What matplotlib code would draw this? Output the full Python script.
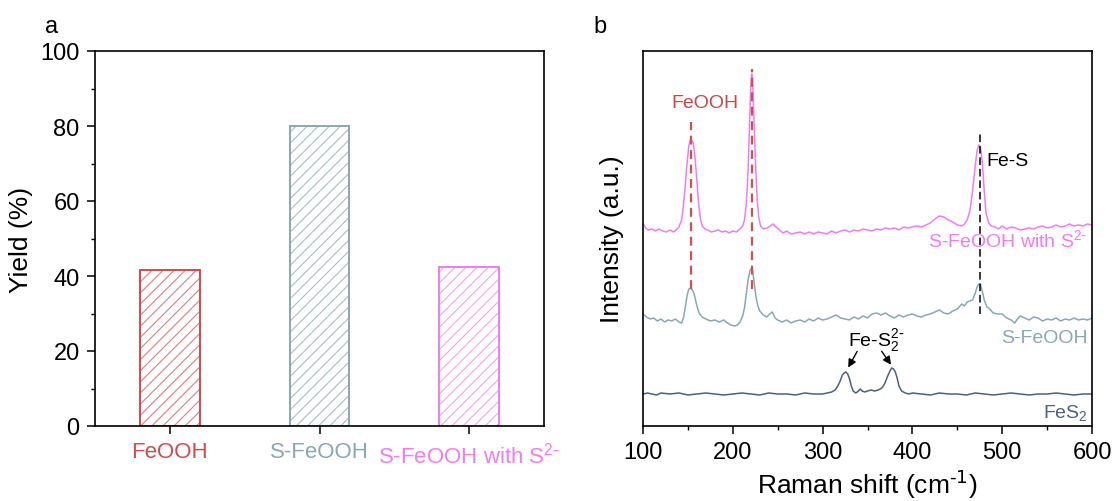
import matplotlib
matplotlib.use("Agg")
import matplotlib.pyplot as plt
from matplotlib.ticker import MultipleLocator

plt.rcParams['font.family'] = ['Liberation Sans', 'DejaVu Sans']
plt.rcParams['mathtext.default'] = 'regular'
plt.rcParams['hatch.linewidth'] = 0.8

# ---- panel a: yield ----
categories = ["FeOOH", "S-FeOOH", r"S-FeOOH with S$^{2\text{-}}$"]
yields = [41.6, 80.0, 42.4]
bar_colors = ["#cf4b4d", "#8aa8b1", "#f07df0"]
hatch_colors = ["#dc7f80", "#a6bfc6", "#f3a3f3"]

# ---- panel b: Raman spectra (intensity in arbitrary units, offset by hand) ----
pink_x = [100, 103, 106, 110, 114, 118, 122, 126, 130, 134, 137, 140, 143, 145, 147, 149, 151, 153,
          155, 156, 158, 160, 162, 164, 166, 169, 172, 176, 180, 184, 188, 192, 196, 200, 204, 208,
          211, 213, 215, 217, 219, 220, 221, 222, 223, 225, 227, 229, 231, 234, 238, 242, 245, 248,
          252, 256, 260, 265, 270, 275, 280, 285, 290, 295, 300, 305, 310, 315, 320, 325, 330, 335,
          340, 345, 350, 355, 360, 365, 370, 375, 380, 385, 390, 395, 400, 405, 410, 415, 420, 425,
          430, 435, 440, 445, 450, 455, 458, 461, 464, 467, 470, 472, 474, 476, 478, 480, 482, 485,
          488, 492, 496, 500, 505, 510, 515, 520, 525, 530, 535, 540, 545, 550, 555, 560, 565, 570,
          575, 580, 585, 590, 595, 600]
pink_y = [203, 198, 196, 197, 195, 197, 195, 194, 196, 194, 196, 199, 206, 220, 240, 262, 280, 287,
          284, 283, 268, 245, 222, 207, 200, 197, 196, 194, 195, 196, 194, 195, 193, 195, 194, 197,
          200, 206, 222, 255, 310, 340, 352, 348, 320, 270, 228, 208, 200, 197, 198, 200, 202, 199,
          196, 193, 195, 192, 193, 194, 192, 194, 192, 194, 193, 192, 195, 193, 195, 196, 194, 196,
          195, 197, 196, 195, 197, 196, 198, 197, 198, 196, 199, 198, 199, 200, 199, 201, 203, 207,
          210, 209, 206, 204, 201, 200, 202, 206, 215, 235, 260, 275, 281, 278, 262, 235, 213, 203,
          200, 199, 197, 200, 197, 199, 198, 196, 197, 198, 197, 199, 200, 198, 199, 201, 199, 200,
          202, 200, 201, 200, 202, 201]

teal_x = [100, 104, 108, 112, 116, 120, 124, 128, 132, 136, 140, 143, 145, 147, 149, 151, 153, 155,
          157, 159, 161, 163, 166, 170, 175, 180, 185, 190, 194, 198, 202, 205, 208, 211, 213, 215,
          217, 219, 221, 222, 224, 226, 228, 230, 234, 238, 241, 244, 247, 250, 255, 260, 265, 270,
          275, 280, 285, 290, 295, 300, 305, 310, 315, 320, 325, 330, 335, 340, 345, 350, 355, 360,
          365, 370, 375, 380, 385, 390, 395, 400, 405, 410, 415, 420, 425, 430, 435, 440, 445, 450,
          455, 458, 461, 464, 467, 470, 472, 474, 476, 478, 480, 483, 486, 490, 495, 500, 505, 510,
          514, 517, 520, 525, 530, 535, 540, 545, 550, 555, 560, 565, 570, 575, 580, 585, 590, 595, 600]
teal_y = [112, 109, 107, 108, 105, 107, 104, 106, 105, 107, 104, 103, 108, 118, 130, 137, 138, 136,
          132, 124, 117, 112, 109, 107, 105, 106, 104, 106, 103, 101, 100, 101, 104, 110, 118, 132,
          146, 155, 158, 156, 142, 128, 120, 115, 111, 109, 112, 114, 108, 106, 104, 106, 103, 105,
          106, 104, 107, 105, 108, 106, 107, 109, 111, 108, 107, 106, 109, 107, 110, 108, 112, 113,
          111, 113, 110, 108, 111, 109, 111, 112, 110, 109, 111, 112, 114, 116, 113, 112, 115, 117,
          122, 120, 124, 125, 126, 133, 139, 142, 141, 134, 126, 119, 117, 113, 112, 112, 108, 106,
          103, 107, 110, 108, 106, 109, 108, 105, 107, 106, 108, 105, 107, 106, 108, 106, 107, 106, 108]

navy_x = [100, 105, 110, 115, 120, 130, 140, 150, 160, 170, 180, 190, 200, 210, 220, 230, 240, 250,
          260, 270, 280, 290, 300, 305, 310, 314, 317, 320, 322, 324, 326, 328, 330, 332, 334, 337,
          340, 342, 344, 347, 350, 354, 358, 362, 366, 369, 372, 375, 377, 379, 381, 383, 385, 388,
          392, 396, 400, 410, 420, 430, 440, 450, 460, 470, 480, 490, 500, 510, 520, 530, 540, 550,
          560, 570, 580, 590, 600]
navy_y = [32, 33, 32, 31, 33, 32, 33, 31, 32, 33, 32, 31, 32, 33, 32, 31, 33, 32,
          32, 31, 33, 32, 32, 33, 34, 36, 40, 46, 51, 53, 54, 52, 47, 40, 35, 33,
          35, 37, 35, 34, 35, 36, 35, 36, 38, 42, 49, 55, 58, 57, 54, 48, 40, 35,
          33, 32, 33, 32, 31, 33, 32, 32, 31, 33, 32, 31, 32, 33, 32, 31, 32, 32,
          33, 32, 31, 32, 32]

spectra_colors = {"pink": "#f07df0", "teal": "#8aa8b1", "navy": "#4f5f80"}
feooh_peaks = [153, 221]
fes_peak = 475
fes2_peaks = [327, 378]

fig = plt.figure(figsize=(11.15, 5.02), dpi=100)
ax1 = fig.add_axes([95 / 1115, 75 / 502, 449 / 1115, 375 / 502])
ax2 = fig.add_axes([643 / 1115, 75 / 502, 449 / 1115, 375 / 502])

# ---- a ----
xpos = list(range(len(categories)))
ax1.bar(xpos, yields, width=0.4, color="none", edgecolor=hatch_colors, hatch="///", linewidth=0)
ax1.bar(xpos, yields, width=0.4, fill=False, edgecolor=bar_colors, linewidth=1.4)
ax1.set_xlim(-0.5, 2.5)
ax1.set_ylim(0, 100)
ax1.set_xticks(xpos)
ax1.set_xticklabels(categories, fontsize=16)
for lbl, c in zip(ax1.get_xticklabels(), bar_colors):
    lbl.set_color(c)
ax1.yaxis.set_major_locator(MultipleLocator(20))
ax1.yaxis.set_minor_locator(MultipleLocator(10))
ax1.set_ylabel("Yield (%)", fontsize=19, labelpad=5)
ax1.tick_params(axis="both", which="major", direction="out", length=6, width=1.1, pad=5)
ax1.tick_params(axis="y", which="major", labelsize=17)
ax1.tick_params(axis="y", which="minor", direction="out", length=3, width=1.0)
for sp in ax1.spines.values():
    sp.set_linewidth(1.2)

# ---- b ----
ax2.plot(pink_x, pink_y, color=spectra_colors["pink"], lw=1.1)
ax2.plot(teal_x, teal_y, color=spectra_colors["teal"], lw=1.1)
ax2.plot(navy_x, navy_y, color=spectra_colors["navy"], lw=1.1)

ax2.vlines(feooh_peaks[0], 137, 304, colors="#d05050", linestyles=(0, (4, 2.5)), lw=1.6)
ax2.vlines(feooh_peaks[1], 137, 357, colors="#d05050", linestyles=(0, (4, 2.5)), lw=1.6)
ax2.vlines(fes_peak, 112, 292, colors="k", linestyles=(0, (5, 2.5)), lw=1.1)

ax2.text(169, 324, "FeOOH", color="#c84848", fontsize=14, ha="center", va="center")
ax2.text(482, 265, "Fe-S", color="k", fontsize=14, ha="left", va="center")
ax2.text(595, 187, r"S-FeOOH with S$^{2\text{-}}$", color=spectra_colors["pink"], fontsize=14,
         ha="right", va="center")
ax2.text(595, 88, "S-FeOOH", color=spectra_colors["teal"], fontsize=14, ha="right", va="center")
ax2.text(595, 14, "FeS$_2$", color=spectra_colors["navy"], fontsize=14, ha="right", va="center")
ax2.text(360, 86, r"Fe-S$_2^{2\text{-}}$", color="k", fontsize=14, ha="center", va="center")
ax2.annotate("", xy=(fes2_peaks[0], 56), xytext=(340, 77),
             arrowprops=dict(arrowstyle="-|>", color="k", lw=1.0, mutation_scale=12))
ax2.annotate("", xy=(fes2_peaks[1], 59), xytext=(364, 77),
             arrowprops=dict(arrowstyle="-|>", color="k", lw=1.0, mutation_scale=12))

ax2.set_xlim(100, 600)
ax2.set_ylim(0, 375)
ax2.xaxis.set_major_locator(MultipleLocator(100))
ax2.xaxis.set_minor_locator(MultipleLocator(50))
ax2.set_yticks([])
ax2.set_xlabel(r"Raman shift (cm$^{\text{-1}}$)", fontsize=19, labelpad=3)
ax2.set_ylabel("Intensity (a.u.)", fontsize=19, labelpad=14)
ax2.tick_params(axis="x", which="major", direction="out", length=6, width=1.1, labelsize=17, pad=5)
ax2.tick_params(axis="x", which="minor", direction="out", length=3, width=1.0)
for sp in ax2.spines.values():
    sp.set_linewidth(1.2)

fig.text(45 / 1115, 1 - 33 / 502, "a", fontsize=17, va="baseline")
fig.text(593 / 1115, 1 - 33 / 502, "b", fontsize=17, va="baseline")

fig.savefig("out.png", dpi=100)
